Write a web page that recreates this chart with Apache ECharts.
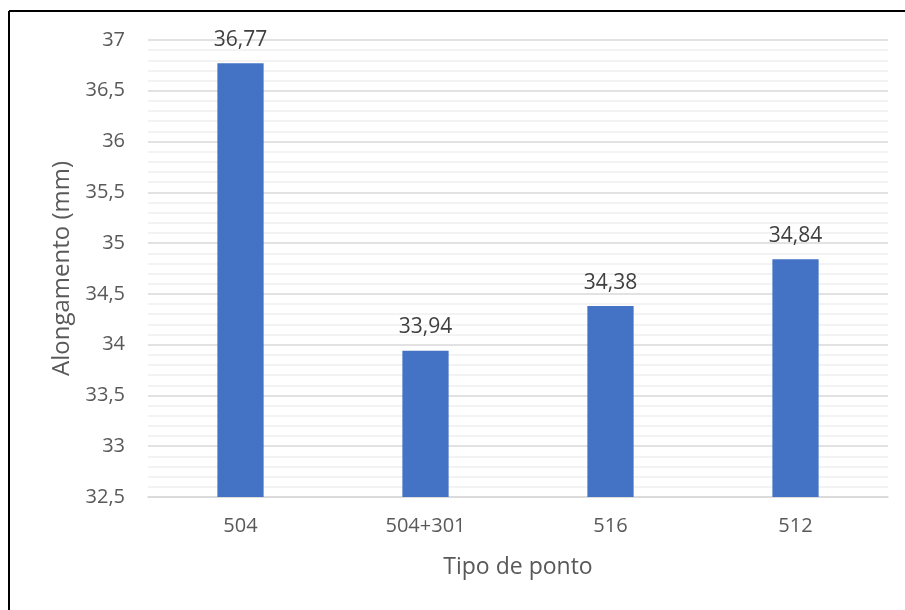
<!DOCTYPE html>
<html>
<head>
<meta charset="utf-8">
<script src="https://cdn.jsdelivr.net/npm/echarts@6/dist/echarts.min.js"></script>
<style>
  html, body { margin: 0; padding: 0; background: #fff; }
  #chart { width: 905px; height: 610px; }
</style>
</head>
<body>
<div id="chart"></div>
<script>
// Stitch types and measured elongation (mm)
const categories = ['504', '504+301', '516', '512'];
const elongation = [36.77, 33.94, 34.38, 34.84];

const yMin = 32.5;
const yMax = 37;
const yStep = 0.5;

const FONT = '"Open Sans", "Noto Sans", sans-serif';
const fmt = v => String(v).replace('.', ',');

const chart = echarts.init(document.getElementById('chart'), null, { renderer: 'canvas' });
chart.setOption({
  backgroundColor: '#ffffff',
  animation: false,
  grid: { left: 148, right: 17, top: 40, bottom: 113, containLabel: false },
  graphic: [
    { type: 'line', shape: { x1: 9, y1: 11, x2: 905, y2: 11 }, style: { stroke: '#000', lineWidth: 2 } },
    { type: 'line', shape: { x1: 9, y1: 11, x2: 9, y2: 610 }, style: { stroke: '#000', lineWidth: 2 } }
  ],
  xAxis: {
    type: 'category',
    data: categories,
    name: 'Tipo de ponto',
    nameLocation: 'middle',
    nameGap: 59,
    nameTextStyle: { fontFamily: FONT, fontSize: 23, color: '#595959' },
    axisLine: { show: true, lineStyle: { color: '#d9d9d9', width: 1.5 } },
    axisTick: { show: false },
    axisLabel: { fontFamily: FONT, fontSize: 20, color: '#595959', margin: 19 }
  },
  yAxis: {
    type: 'value',
    min: yMin,
    max: yMax,
    interval: yStep,
    name: 'Alongamento (mm)',
    nameLocation: 'middle',
    nameGap: 73,
    nameTextStyle: { fontFamily: FONT, fontSize: 24, color: '#595959' },
    axisLine: { show: false },
    axisTick: { show: false },
    axisLabel: { fontFamily: FONT, fontSize: 20, color: '#595959', margin: 23, formatter: fmt },
    splitLine: { show: true, lineStyle: { color: '#d9d9d9', width: 1.5 } },
    minorTick: { show: false, splitNumber: 5 },
    minorSplitLine: { show: true, lineStyle: { color: '#efefef', width: 1.5 } }
  },
  series: [{
    type: 'bar',
    data: elongation,
    barWidth: '25%',
    itemStyle: { color: '#4472c4' },
    label: {
      show: true,
      position: 'top',
      distance: 13,
      fontFamily: FONT,
      fontSize: 21,
      color: '#404040',
      formatter: p => fmt(p.value)
    }
  }]
});
</script>
</body>
</html>
